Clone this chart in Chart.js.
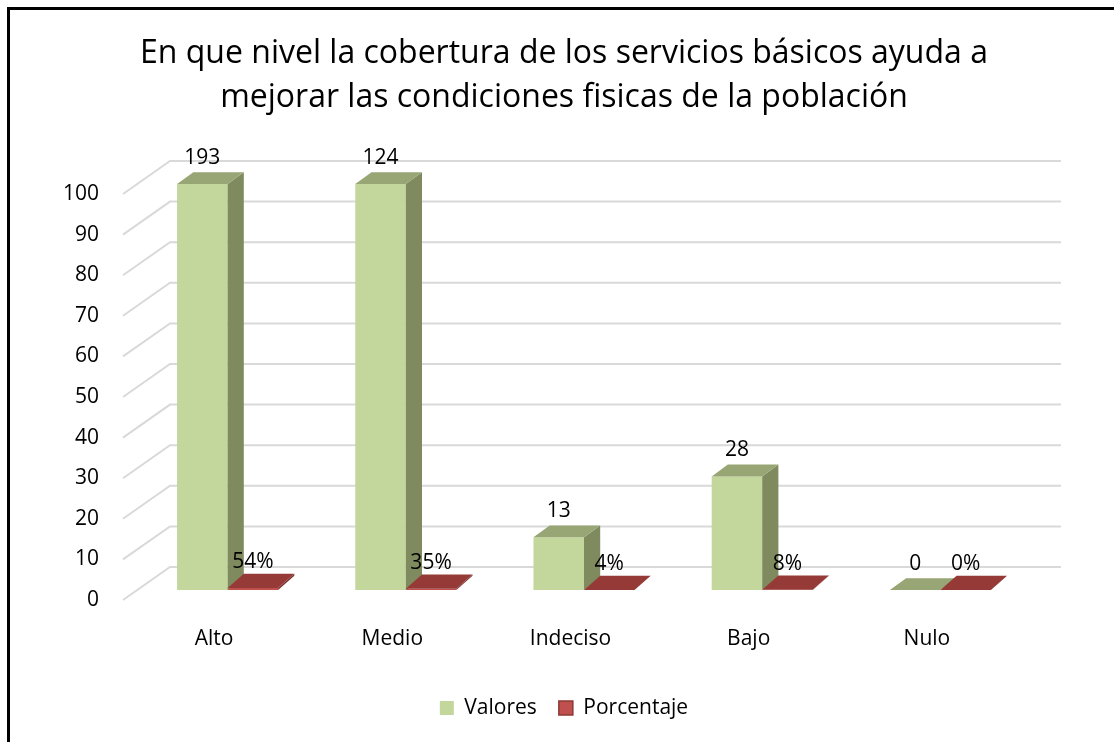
<!DOCTYPE html>
<html>
<head>
<meta charset="utf-8">
<script src="https://cdn.jsdelivr.net/npm/chart.js@4.4.0/dist/chart.umd.min.js"></script>
<style>
  html, body { margin: 0; padding: 0; background: #fff; overflow: hidden; }
  #wrap { position: relative; width: 1114px; height: 742px; }
  #frame { position: absolute; left: 7px; top: 7px; width: 1200px; height: 800px;
           border-left: 3px solid #000; border-top: 3px solid #000; pointer-events: none; }
</style>
</head>
<body>
<div id="wrap">
  <canvas id="chart" width="1114" height="742"></canvas>
  <div id="frame"></div>
</div>
<script>
const categories = ["Alto", "Medio", "Indeciso", "Bajo", "Nulo"];
const valores = [193, 124, 13, 28, 0];
const porcentaje = [0.54, 0.35, 0.04, 0.08, 0];
const seriesNames = ["Valores", "Porcentaje"];
const titleLines = [
  "En que nivel la cobertura de los servicios básicos ayuda a",
  "mejorar las condiciones fisicas de la población"
];

const FONT = "'Open Sans', 'Noto Sans', sans-serif";

// floor direction, from the front edge to the back wall
const DEPTH = { x: 45, y: -33 };
const BAR_SHIFT = 0.3;   // bars start this far back
const BAR_DEPTH = 0.36;  // and are this deep

function poly(ctx, color, pts) {
  ctx.fillStyle = color;
  ctx.beginPath();
  ctx.moveTo(pts[0][0], pts[0][1]);
  for (let k = 1; k < pts.length; k++) ctx.lineTo(pts[k][0], pts[k][1]);
  ctx.closePath();
  ctx.fill();
}

const faces = [
  { values: valores, side: "#7f8b5f", top: "#98a575", depth: 1, label: v => String(v) },
  { values: porcentaje, side: "#7a2f2d", top: "#953a37", depth: 1.2, label: v => Math.round(v * 100) + "%" }
];

const threeD = {
  id: "threeD",
  beforeDatasetsDraw(chart) {
    const { ctx, chartArea: a, scales: { y } } = chart;
    // back wall grid + left side diagonals
    ctx.save();
    ctx.strokeStyle = "#d9d9d9";
    ctx.lineWidth = 2;
    y.ticks.forEach(t => {
      const py = y.getPixelForValue(t.value);
      ctx.beginPath();
      ctx.moveTo(a.left - 2, py);
      ctx.lineTo(a.left + DEPTH.x, py + DEPTH.y);
      ctx.lineTo(a.right + DEPTH.x, py + DEPTH.y);
      ctx.stroke();
    });
    ctx.restore();
    // push the bars back into the floor
    ctx.save();
    ctx.translate(DEPTH.x * BAR_SHIFT, DEPTH.y * BAR_SHIFT);
  },
  afterDatasetsDraw(chart) {
    const { ctx, scales: { y } } = chart;
    const tops = [];
    faces.forEach((s, di) => {
      const dx = DEPTH.x * BAR_DEPTH, dy = DEPTH.y * BAR_DEPTH * s.depth;
      chart.getDatasetMeta(di).data.forEach((bar, i) => {
        const half = bar.width / 2;
        const l = bar.x - half, r = bar.x + half;
        const top = y.getPixelForValue(Math.min(s.values[i], y.max));
        const base = bar.base;
        poly(ctx, s.side, [[r, top], [r + dx, top + dy], [r + dx, base + dy], [r, base]]);
        poly(ctx, s.top, [[l, top], [l + dx, top + dy], [r + dx, top + dy], [r, top]]);
        tops.push({ x: bar.x, y: top, text: s.label(s.values[i]) });
      });
    });
    ctx.fillStyle = "#000";
    ctx.font = "21px " + FONT;
    ctx.textAlign = "center";
    ctx.textBaseline = "middle";
    tops.forEach(t => ctx.fillText(t.text, t.x, t.y - 26));
    ctx.restore();
  }
};

new Chart(document.getElementById("chart"), {
  type: "bar",
  data: {
    labels: categories,
    datasets: [
      { label: seriesNames[0], data: valores, backgroundColor: "#c3d69b", borderWidth: 0 },
      { label: seriesNames[1], data: porcentaje, backgroundColor: "#c0504d", borderWidth: 0 }
    ]
  },
  options: {
    responsive: false,
    animation: false,
    datasets: { bar: { categoryPercentage: 0.567, barPercentage: 1 } },
    layout: { padding: { left: 14, right: 0, top: 0, bottom: 13.5 } },
    scales: {
      x: {
        grid: { display: false, drawTicks: false },
        border: { display: false },
        ticks: { color: "#000", padding: 26, font: { family: FONT, size: 21 } },
        afterFit(s) { s.height = 75.5; }
      },
      y: {
        min: 0,
        max: 100,
        grid: { display: false, drawTicks: false },
        border: { display: false },
        ticks: { stepSize: 10, color: "#000", padding: 26, font: { family: FONT, size: 21 } },
        afterFit(s) { s.width = 111; }
      },
      yR: {
        position: "right",
        display: true,
        grid: { display: false, drawTicks: false },
        border: { display: false },
        ticks: { display: false },
        afterFit(s) { s.width = 98; }
      }
    },
    plugins: {
      title: {
        display: true,
        text: titleLines,
        color: "#000",
        font: { family: FONT, size: 32, weight: "normal", lineHeight: "44px" },
        padding: { top: 32, bottom: 74 }
      },
      legend: {
        position: "bottom",
        labels: {
          color: "#000",
          boxWidth: 14,
          boxHeight: 14,
          padding: 22,
          font: { family: FONT, size: 21 },
          generateLabels(chart) {
            const items = Chart.defaults.plugins.legend.labels.generateLabels(chart);
            items[1].strokeStyle = "#8c3836";
            items[1].lineWidth = 1.5;
            return items;
          }
        }
      },
      tooltip: { enabled: false }
    }
  },
  plugins: [threeD]
});
</script>
</body>
</html>
